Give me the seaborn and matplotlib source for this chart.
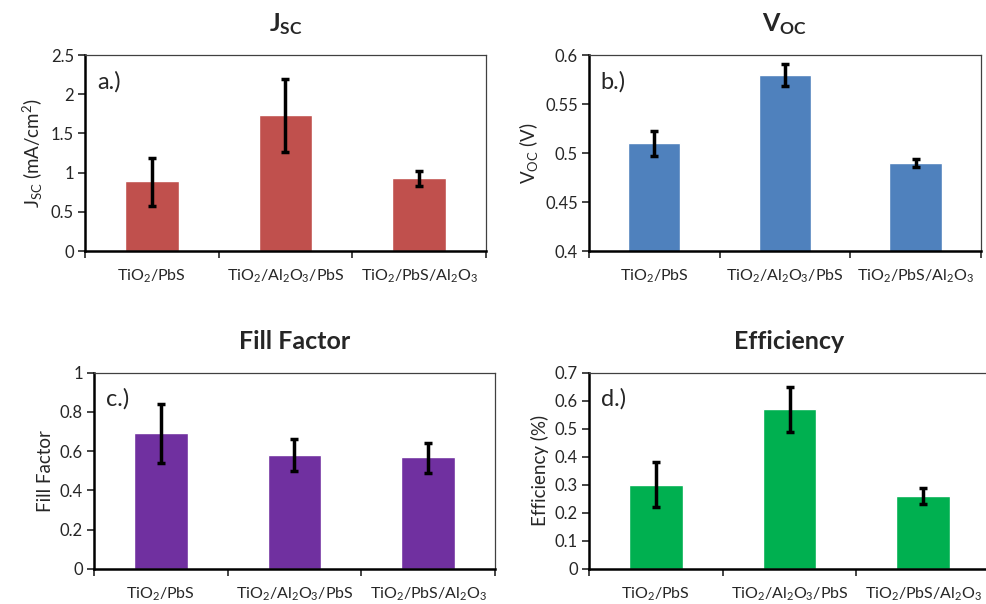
import numpy as np
import pandas as pd
import matplotlib
matplotlib.use('Agg')
import matplotlib.pyplot as plt
import seaborn as sns

sns.set_style('white')
plt.rcParams['font.family'] = ['Lato', 'DejaVu Sans']
plt.rcParams['mathtext.fontset'] = 'custom'
plt.rcParams['mathtext.rm'] = 'Lato'
plt.rcParams['mathtext.it'] = 'Lato:italic'
plt.rcParams['mathtext.bf'] = 'Lato:bold'

samples = [r'TiO$_2$/PbS', r'TiO$_2$/Al$_2$O$_3$/PbS', r'TiO$_2$/PbS/Al$_2$O$_3$']

jsc = [0.89, 1.73, 0.93]
jsc_lo = [0.57, 1.26, 0.83]
jsc_hi = [1.19, 2.19, 1.02]

voc = [0.51, 0.58, 0.49]
voc_lo = [0.497, 0.568, 0.486]
voc_hi = [0.522, 0.591, 0.494]

ff = [0.69, 0.58, 0.57]
ff_lo = [0.54, 0.50, 0.49]
ff_hi = [0.84, 0.66, 0.64]

eff = [0.30, 0.57, 0.26]
eff_lo = [0.22, 0.49, 0.23]
eff_hi = [0.38, 0.65, 0.29]

fig = plt.figure(figsize=(9.87, 6.04), dpi=100)

panels = [
    dict(rect=[0.0861, 0.5844, 0.4063, 0.3245], vals=jsc, lo=jsc_lo, hi=jsc_hi,
         color='#C0504D', ylim=(0, 2.5), step=0.5, title=r'$\mathbf{J}_{\mathbf{SC}}$',
         ylabel=r'J$_{\mathrm{SC}}$ (mA/cm$^2$)', tag='a.)'),
    dict(rect=[0.5968, 0.5844, 0.3970, 0.3245], vals=voc, lo=voc_lo, hi=voc_hi,
         color='#4F81BD', ylim=(0.4, 0.6), step=0.05, title=r'$\mathbf{V}_{\mathbf{OC}}$',
         ylabel=r'V$_{\mathrm{OC}}$ (V)', tag='b.)'),
    dict(rect=[0.0952, 0.0584, 0.4063, 0.3245], vals=ff, lo=ff_lo, hi=ff_hi,
         color='#7030A0', ylim=(0, 1.0), step=0.2, title='Fill Factor',
         ylabel='Fill Factor', tag='c.)'),
    dict(rect=[0.5968, 0.0584, 0.4063, 0.3245], vals=eff, lo=eff_lo, hi=eff_hi,
         color='#00B050', ylim=(0, 0.7), step=0.1, title='Efficiency',
         ylabel='Efficiency (%)', tag='d.)'),
]

for p in panels:
    ax = fig.add_axes(p['rect'])
    df = pd.DataFrame({'sample': samples, 'value': p['vals']})
    sns.barplot(data=df, x='sample', y='value', color=p['color'], width=0.4,
                saturation=1, ax=ax, errorbar=None)
    v = np.array(p['vals'])
    lo = v - np.array(p['lo'])
    hi = np.array(p['hi']) - v
    ax.errorbar(np.arange(len(samples)), v, yerr=[lo, hi], fmt='none',
                ecolor='black', elinewidth=2.5, capsize=3, capthick=2.5)
    ax.set_xlim(-0.5, len(samples) - 0.5)
    ax.set_ylim(*p['ylim'])
    ax.set_yticks(np.arange(p['ylim'][0], p['ylim'][1] + p['step'] / 2, p['step']))
    ax.yaxis.set_major_formatter(matplotlib.ticker.FuncFormatter(lambda y, _: f'{round(y, 3):g}'))
    ax.set_xticks(np.arange(-0.5, len(samples), 1.0))
    ax.set_xticklabels([])
    ax.set_xticks(np.arange(len(samples)), minor=True)
    ax.set_xticklabels(samples, minor=True)
    ax.tick_params(axis='x', which='minor', length=0, pad=12, labelsize=11.5)
    ax.tick_params(axis='x', which='major', direction='out', length=5, width=1.2, bottom=True)
    ax.tick_params(axis='y', direction='out', length=5, width=1.2, left=True, labelsize=12, pad=3)
    ax.set_xlabel('')
    ax.set_ylabel(p['ylabel'], fontsize=13.5)
    ax.set_title(p['title'], fontsize=18, fontweight='bold', pad=17)
    for side in ['left', 'bottom']:
        ax.spines[side].set_color('black')
        ax.spines[side].set_linewidth(1.8)
    for side in ['top', 'right']:
        ax.spines[side].set_color('#404040')
        ax.spines[side].set_linewidth(0.9)
    ax.text(0.03, 0.92, p['tag'], transform=ax.transAxes, fontsize=17, va='top', ha='left')

fig.savefig('out.png', dpi=100)
